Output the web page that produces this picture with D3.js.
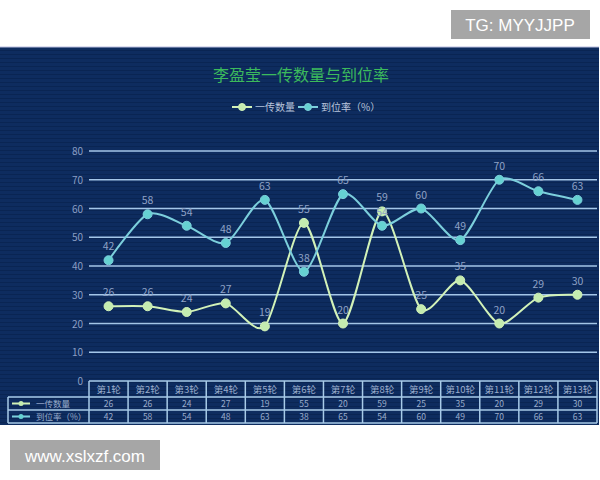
<!DOCTYPE html>
<html>
<head>
<meta charset="utf-8">
<script src="https://cdn.jsdelivr.net/npm/d3@7.9.0/dist/d3.min.js"></script>
<style>
  body { margin: 0; background: #fff; }
  svg { display: block; font-family: "Noto Sans CJK SC", "Noto Sans", sans-serif; }
</style>
</head>
<body>
<svg id="chart" width="600" height="480"></svg>
<script>
const categories = ['第1轮', '第2轮', '第3轮', '第4轮', '第5轮', '第6轮', '第7轮',
                    '第8轮', '第9轮', '第10轮', '第11轮', '第12轮', '第13轮'];
const passCount = [26, 26, 24, 27, 19, 55, 20, 59, 25, 35, 20, 29, 30];
const arriveRate = [42, 58, 54, 48, 63, 38, 65, 54, 60, 49, 70, 66, 63];
const yTicks = [0, 10, 20, 30, 40, 50, 60, 70, 80];
const seriesNames = ['一传数量', '到位率（%）'];

const series = [
    { name: seriesNames[0], values: passCount, line: '#d2f2b8', dot: '#c4ecb0' },
    { name: seriesNames[1], values: arriveRate, line: '#7ccfdc', dot: '#66d2d2' },
];

const svg = d3.select('#chart');

// watermark boxes
svg.append('rect').attr('x', 451).attr('y', 10).attr('width', 139).attr('height', 29).attr('fill', '#a6a6a6');
svg.append('text').attr('x', 520).attr('y', 31).attr('text-anchor', 'middle')
    .attr('fill', '#fff').attr('font-family', 'Liberation Sans, Arial').attr('font-size', 17)
    .text('TG: MYYJJPP');

// panel with scanline texture
const defs = svg.append('defs');
const pat = defs.append('pattern').attr('id', 'scan').attr('width', 4).attr('height', 4)
    .attr('patternUnits', 'userSpaceOnUse');
pat.append('rect').attr('width', 4).attr('height', 4).attr('fill', '#0e2c5f');
pat.append('rect').attr('y', 2).attr('width', 4).attr('height', 1).attr('fill', '#0a2553');
svg.append('rect').attr('x', 0).attr('y', 47).attr('width', 599).attr('height', 378).attr('fill', 'url(#scan)');
svg.append('line').attr('x1', 0).attr('x2', 599).attr('y1', 47).attr('y2', 47)
    .attr('stroke', '#b8bde0').attr('stroke-width', 1);

// title
svg.append('text').attr('x', 301).attr('y', 81).attr('text-anchor', 'middle')
    .attr('fill', '#3cba5c').attr('font-size', 16).text('李盈莹一传数量与到位率');

// legend
const legendX = [232, 298];
series.forEach((s, i) => {
    const g = svg.append('g').attr('transform', `translate(${legendX[i]},107)`);
    g.append('line').attr('x1', 0).attr('x2', 20).attr('stroke', s.line).attr('stroke-width', 2);
    g.append('circle').attr('cx', 10).attr('r', 3.5).attr('fill', s.dot).attr('stroke', s.line);
    g.append('text').attr('x', 23).attr('y', 4).attr('fill', '#b8c4dc').attr('font-size', 10).text(s.name);
});

// scales
const x = d3.scaleBand().domain(categories).range([89, 597]);
const y = d3.scaleLinear().domain([0, 80]).range([381, 151]);
const cx = d => x(d) + x.bandwidth() / 2;

// grid + y labels
svg.append('g').selectAll('line').data(yTicks.filter(t => t > 0)).join('line')
    .attr('x1', 89).attr('x2', 597)
    .attr('y1', d => y(d)).attr('y2', d => y(d))
    .attr('stroke', '#a4c6e8').attr('stroke-width', 1.5);
svg.append('g').selectAll('text').data(yTicks).join('text')
    .attr('x', 83).attr('y', d => y(d) + 4).attr('text-anchor', 'end')
    .attr('fill', '#8a9ec4').attr('font-size', 10).text(d => d);

// lines
const lineGen = d3.line()
    .x((d, i) => cx(categories[i]))
    .y(d => y(d))
    .curve(d3.curveCardinal.tension(0.25));

series.forEach(s => {
    svg.append('path').datum(s.values).attr('d', lineGen)
        .attr('fill', 'none').attr('stroke', s.line).attr('stroke-width', 2);
});
series.forEach(s => {
    const g = svg.append('g');
    g.selectAll('circle').data(s.values).join('circle')
        .attr('cx', (d, i) => cx(categories[i])).attr('cy', d => y(d))
        .attr('r', 4.5).attr('fill', s.dot).attr('stroke', s.line).attr('stroke-width', 1);
    g.selectAll('text').data(s.values).join('text')
        .attr('x', (d, i) => cx(categories[i])).attr('y', d => y(d) - 10)
        .attr('text-anchor', 'middle').attr('fill', '#8ea2c6').attr('font-size', 10.5)
        .text(d => d);
});

// data table
const tableStroke = '#a8cbe8';
const rows = [381, 397, 410, 423];
const tg = svg.append('g');
tg.append('line').attr('x1', 89).attr('x2', 597).attr('y1', rows[0]).attr('y2', rows[0])
    .attr('stroke', tableStroke).attr('stroke-width', 1.5);
rows.slice(1).forEach(r => {
    tg.append('line').attr('x1', 8).attr('x2', 597).attr('y1', r).attr('y2', r)
        .attr('stroke', tableStroke).attr('stroke-width', 1.5);
});
tg.append('line').attr('x1', 8).attr('x2', 8).attr('y1', rows[1]).attr('y2', rows[3])
    .attr('stroke', tableStroke).attr('stroke-width', 1.5);
tg.selectAll('line.col').data(categories.concat(['end'])).join('line').attr('class', 'col')
    .attr('x1', d => d === 'end' ? 597 : x(d)).attr('x2', d => d === 'end' ? 597 : x(d))
    .attr('y1', rows[0]).attr('y2', rows[3])
    .attr('stroke', tableStroke).attr('stroke-width', 1.5);
tg.selectAll('text.head').data(categories).join('text').attr('class', 'head')
    .attr('x', d => cx(d)).attr('y', (rows[0] + rows[1]) / 2 + 3.5)
    .attr('text-anchor', 'middle').attr('fill', '#9aaccc').attr('font-size', 9.5).text(d => d);
series.forEach((s, i) => {
    const mid = (rows[i + 1] + rows[i + 2]) / 2;
    tg.append('line').attr('x1', 12).attr('x2', 30).attr('y1', mid).attr('y2', mid)
        .attr('stroke', s.line).attr('stroke-width', 2);
    tg.append('circle').attr('cx', 21).attr('cy', mid).attr('r', 2.5).attr('fill', s.dot);
    tg.append('text').attr('x', 36).attr('y', mid + 3).attr('fill', '#9aaccc').attr('font-size', 8.5).text(s.name);
    tg.selectAll(`text.v${i}`).data(s.values).join('text').attr('class', `v${i}`)
        .attr('x', (d, j) => cx(categories[j])).attr('y', mid + 3)
        .attr('text-anchor', 'middle').attr('fill', '#9aaccc').attr('font-size', 8.5).text(d => d);
});

// bottom watermark
svg.append('rect').attr('x', 10).attr('y', 440).attr('width', 150).attr('height', 30).attr('fill', '#a6a6a6');
svg.append('text').attr('x', 85).attr('y', 462).attr('text-anchor', 'middle')
    .attr('fill', '#fff').attr('font-family', 'Liberation Sans, Arial').attr('font-size', 17)
    .text('www.xslxzf.com');
</script>
</body>
</html>
